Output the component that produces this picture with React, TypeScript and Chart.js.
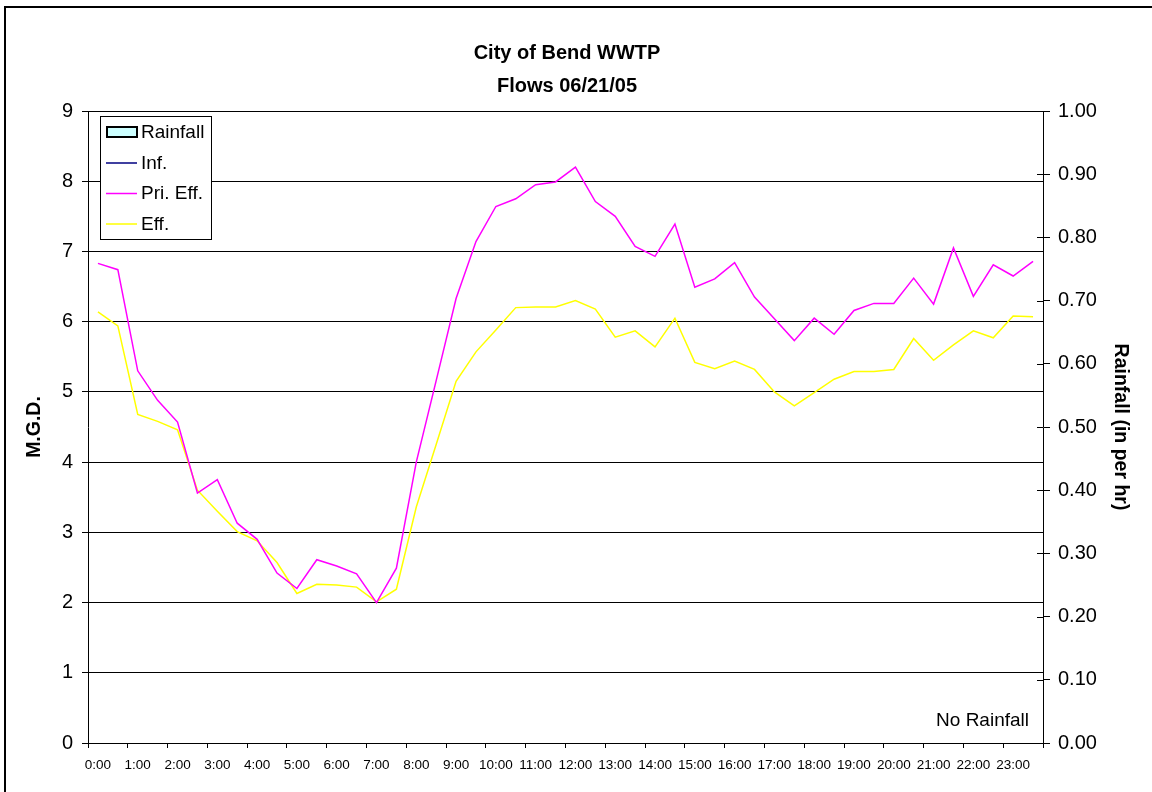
import React, { useEffect, useRef } from "react";
import { Chart, registerables } from "chart.js";

Chart.register(...registerables);

const titleLines = ["City of Bend WWTP", "Flows 06/21/05"];

const categories = [
  "0:00", "0:30", "1:00", "1:30", "2:00", "2:30", "3:00", "3:30",
  "4:00", "4:30", "5:00", "5:30", "6:00", "6:30", "7:00", "7:30",
  "8:00", "8:30", "9:00", "9:30", "10:00", "10:30", "11:00", "11:30",
  "12:00", "12:30", "13:00", "13:30", "14:00", "14:30", "15:00", "15:30",
  "16:00", "16:30", "17:00", "17:30", "18:00", "18:30", "19:00", "19:30",
  "20:00", "20:30", "21:00", "21:30", "22:00", "22:30", "23:00", "23:30",
];

const rainfall = [
  0, 0, 0, 0, 0, 0, 0, 0, 0, 0, 0, 0, 0, 0, 0, 0,
  0, 0, 0, 0, 0, 0, 0, 0, 0, 0, 0, 0, 0, 0, 0, 0,
  0, 0, 0, 0, 0, 0, 0, 0, 0, 0, 0, 0, 0, 0, 0, 0,
];

const inf: (number | null)[] = [];

const priEff = [
  6.83, 6.74, 5.30, 4.88, 4.57, 3.56, 3.75, 3.13,
  2.90, 2.42, 2.20, 2.61, 2.52, 2.41, 2.00, 2.49,
  4.00, 5.16, 6.33, 7.14, 7.64, 7.75, 7.95, 7.99,
  8.20, 7.71, 7.50, 7.07, 6.93, 7.39, 6.49, 6.61,
  6.84, 6.35, 6.04, 5.73, 6.05, 5.82, 6.16, 6.26,
  6.26, 6.62, 6.25, 7.05, 6.36, 6.81, 6.65, 6.86,
];

const eff = [
  6.14, 5.94, 4.68, 4.58, 4.46, 3.60, 3.30, 3.01,
  2.88, 2.57, 2.13, 2.26, 2.25, 2.22, 2.01, 2.19,
  3.36, 4.25, 5.15, 5.57, 5.88, 6.20, 6.21, 6.21,
  6.30, 6.18, 5.78, 5.87, 5.64, 6.05, 5.42, 5.33,
  5.44, 5.32, 5.00, 4.80, 4.99, 5.18, 5.29, 5.29,
  5.32, 5.76, 5.45, 5.67, 5.87, 5.77, 6.08, 6.07,
];

const legendItems = [
  { label: "Rainfall", kind: "box", color: "#CCFFFF" },
  { label: "Inf.", kind: "line", color: "#000080" },
  { label: "Pri. Eff.", kind: "line", color: "#FF00FF" },
  { label: "Eff.", kind: "line", color: "#FFFF00" },
];

const noteText = "No Rainfall";

const FONT = '"Liberation Sans", Arial, Helvetica, sans-serif';

const decorPlugin = {
  id: "decor",
  afterDraw(chart: any) {
    const ctx = chart.ctx as CanvasRenderingContext2D;
    ctx.save();
    // outer frame
    ctx.strokeStyle = "#000";
    ctx.lineWidth = 2;
    ctx.strokeRect(5, 7, 1300, 900);

    // title
    ctx.fillStyle = "#000";
    ctx.font = `bold 20px ${FONT}`;
    ctx.textAlign = "center";
    ctx.textBaseline = "alphabetic";
    ctx.fillText(titleLines[0], 567, 59);
    ctx.fillText(titleLines[1], 567, 92);

    // inner part of the right-axis cross ticks
    const y2 = chart.scales.y2;
    ctx.lineWidth = 1;
    ctx.strokeStyle = "#000";
    y2.ticks.forEach((t: any) => {
      const py = Math.round(y2.getPixelForValue(t.value)) + 0.5;
      ctx.beginPath();
      ctx.moveTo(y2.left - 6, py);
      ctx.lineTo(y2.left, py);
      ctx.stroke();
    });

    // note
    ctx.font = `19px ${FONT}`;
    ctx.textAlign = "right";
    ctx.fillText(noteText, 1029, 726);

    // legend
    const lx = 100.5, ly = 116.5, lw = 111, lh = 123;
    ctx.fillStyle = "#fff";
    ctx.fillRect(lx, ly, lw, lh);
    ctx.strokeStyle = "#000";
    ctx.lineWidth = 1;
    ctx.strokeRect(lx, ly, lw, lh);
    ctx.textAlign = "left";
    ctx.textBaseline = "middle";
    ctx.font = `19px ${FONT}`;
    legendItems.forEach((it, i) => {
      const cy = 132 + i * 30.5;
      if (it.kind === "box") {
        ctx.fillStyle = it.color;
        ctx.fillRect(107, cy - 5, 30, 10);
        ctx.strokeStyle = "#000";
        ctx.lineWidth = 2;
        ctx.strokeRect(107, cy - 5, 30, 10);
      } else {
        ctx.strokeStyle = it.color;
        ctx.lineWidth = 1.5;
        ctx.beginPath();
        ctx.moveTo(106, cy + 0.5);
        ctx.lineTo(137, cy + 0.5);
        ctx.stroke();
      }
      ctx.fillStyle = "#000";
      ctx.fillText(it.label, 141, cy + 1);
    });
    ctx.restore();
  },
};

export default function App() {
  const ref = useRef<HTMLCanvasElement | null>(null);

  useEffect(() => {
    if (!ref.current) return;
    const chart = new Chart(ref.current, {
      type: "bar",
      data: {
        labels: categories,
        datasets: [
          {
            type: "bar",
            label: "Rainfall",
            data: rainfall,
            yAxisID: "y2",
            backgroundColor: "#CCFFFF",
            borderColor: "#000",
            borderWidth: 0,
          },
          {
            type: "line",
            label: "Inf.",
            data: inf,
            yAxisID: "y",
            borderColor: "#000080",
            borderWidth: 1.5,
            pointRadius: 0,
            tension: 0,
            fill: false,
          },
          {
            type: "line",
            label: "Pri. Eff.",
            data: priEff,
            yAxisID: "y",
            borderColor: "#FF00FF",
            borderWidth: 1.5,
            pointRadius: 0,
            tension: 0,
            fill: false,
          },
          {
            type: "line",
            label: "Eff.",
            data: eff,
            yAxisID: "y",
            borderColor: "#FFFF00",
            borderWidth: 1.5,
            pointRadius: 0,
            tension: 0,
            fill: false,
          },
        ],
      } as any,
      options: {
        responsive: false,
        animation: false,
        devicePixelRatio: 1,
        layout: { padding: { top: 111, left: 0, right: 0, bottom: 0 } },
        plugins: {
          legend: { display: false },
          title: { display: false },
          tooltip: { enabled: false },
        },
        scales: {
          x: {
            type: "category",
            offset: true,
            afterFit: (s: any) => {
              s.height = 49;
            },
            grid: {
              offset: true,
              drawOnChartArea: false,
              drawTicks: true,
              tickLength: 5,
              tickColor: (c: any) =>
                c.index === undefined || c.index % 2 === 0 ? "#000" : "rgba(0,0,0,0)",
            },
            border: { display: true, color: "#000", width: 1 },
            ticks: {
              autoSkip: false,
              maxRotation: 0,
              minRotation: 0,
              padding: 9,
              color: "#000",
              font: { family: FONT, size: 13.5 },
              callback: (_v: any, i: number) => (i % 2 === 0 ? categories[i] : ""),
            },
          },
          y: {
            type: "linear",
            position: "left",
            min: 0,
            max: 9,
            afterFit: (s: any) => {
              s.width = 88;
            },
            grid: {
              color: "#000",
              lineWidth: 1,
              drawTicks: true,
              tickLength: 6,
              tickColor: "#000",
            },
            border: { display: true, color: "#000", width: 1 },
            ticks: {
              stepSize: 1,
              padding: 9,
              color: "#000",
              font: { family: FONT, size: 20 },
            },
            title: {
              display: true,
              text: "M.G.D.",
              color: "#000",
              font: { family: FONT, size: 19.5, weight: "bold" },
              padding: { top: 23, bottom: 0 },
            },
          },
          y2: {
            type: "linear",
            position: "right",
            min: 0,
            max: 1,
            afterFit: (s: any) => {
              s.width = 109;
            },
            grid: {
              drawOnChartArea: false,
              drawTicks: true,
              tickLength: 7,
              tickColor: "#000",
            },
            border: { display: true, color: "#000", width: 1 },
            ticks: {
              stepSize: 0.1,
              padding: 8,
              color: "#000",
              font: { family: FONT, size: 20 },
              callback: (v: any) => Number(v).toFixed(2),
            },
            title: {
              display: true,
              text: "Rainfall (in per hr)",
              color: "#000",
              font: { family: FONT, size: 19.5, weight: "bold" },
              padding: { top: 20, bottom: 0 },
            },
          },
        },
      } as any,
      plugins: [decorPlugin],
    });
    return () => chart.destroy();
  }, []);

  return (
    <div style={{ position: "absolute", left: 0, top: 0, width: 1152, height: 792, background: "#fff" }}>
      <canvas ref={ref} width={1152} height={792} style={{ display: "block" }} />
    </div>
  );
}
